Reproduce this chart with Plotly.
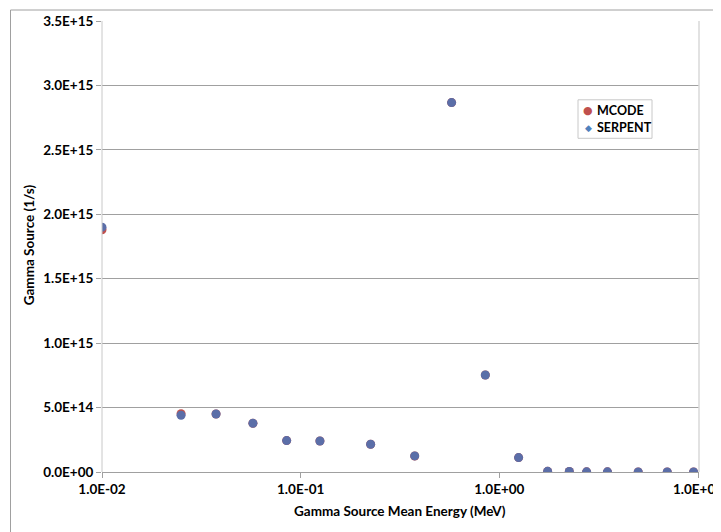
import plotly.graph_objects as go

energy = [0.01, 0.025, 0.0375, 0.0575, 0.085, 0.125, 0.225, 0.375, 0.575, 0.85,
          1.25, 1.75, 2.25, 2.75, 3.5, 5.0, 7.0, 9.5]
mcode = [1.88e15, 4.53e14, 4.50e14, 3.78e14, 2.44e14, 2.41e14, 2.15e14, 1.24e14,
         2.867e15, 7.53e14, 1.12e14, 5e12, 4e12, 1e12, 1e12, 5e11, 2e11, 1e11]
serpent = [1.90e15, 4.40e14, 4.50e14, 3.78e14, 2.44e14, 2.41e14, 2.15e14, 1.25e14,
           2.867e15, 7.53e14, 1.12e14, 5e12, 4e12, 1e12, 1e12, 5e11, 2e11, 1e11]
series_names = ["MCODE", "SERPENT"]
ytick_vals = [0, 5e14, 1e15, 1.5e15, 2e15, 2.5e15, 3e15, 3.5e15]
ytick_text = ["0.0E+00", "5.0E+14", "1.0E+15", "1.5E+15", "2.0E+15", "2.5E+15", "3.0E+15", "3.5E+15"]
xtick_vals = [0.01, 0.1, 1, 10]
xtick_text = ["1.0E-02", "1.0E-01", "1.0E+00", "1.0E+01"]

FONT = "Lato"
OFF = 8  # page body offset

# target plot area in screenshot pixels
L, R, T, B = 102, 699, 20.7, 471.7
W, H = 721, 532
ml, mr, mt = L - OFF, W - (R - OFF), T - OFF
mb = H - (B - OFF)
pw, ph = R - L, B - T


def px(x):
    return (x - L) / pw


def py(y):
    return (B - y) / ph


RED = "#c0504d"
BLUE = "#4f81bd"

fig = go.Figure()
fig.add_trace(go.Scatter(x=energy, y=mcode, mode="markers", name=series_names[0],
                         showlegend=False,
                         marker=dict(symbol="circle", size=9, color=RED)))
fig.add_trace(go.Scatter(x=energy, y=serpent, mode="markers", name=series_names[1],
                         showlegend=False,
                         marker=dict(symbol="circle", size=9, color="#5b6ea8")))

# legend box (drawn manually to match the compact Excel legend)
shapes = [
    dict(type="line", xref="paper", yref="paper", x0=0, x1=0, y0=0, y1=1,
         line=dict(color="#c8c8c8", width=1)),
    dict(type="line", xref="paper", yref="paper", x0=1, x1=1, y0=0, y1=1,
         line=dict(color="#d9d9d9", width=1.5)),
    dict(type="rect", xref="paper", yref="paper",
         x0=px(10.5), x1=px(760), y0=py(560), y1=py(9.7),
         line=dict(color="#a0a0a0", width=1), layer="below"),
    dict(type="rect", xref="paper", yref="paper",
         x0=px(578), x1=px(652), y0=py(138), y1=py(99.5),
         line=dict(color="#c8c8c8", width=1), fillcolor="white", layer="above"),
]
annotations = [
    dict(text="<b>Gamma Source (1/s)</b>", xref="paper", yref="paper",
         x=px(29), y=py(245), xanchor="center", yanchor="middle",
         textangle=-90, showarrow=False,
         font=dict(family=FONT, size=13.5, color="#000")),
    dict(text="<b>Gamma Source Mean Energy (MeV)</b>", xref="paper", yref="paper",
         x=px(400), y=py(511), xanchor="center", yanchor="middle", showarrow=False,
         font=dict(family=FONT, size=13.5, color="#000")),
]
for name, sym, col, yy, sz in [(series_names[0], "●", RED, 110.5, 11),
                               (series_names[1], "◆", BLUE, 127.5, 9)]:
    annotations.append(dict(text=sym, xref="paper", yref="paper", x=px(588), y=py(yy),
                            xanchor="center", yanchor="middle", showarrow=False,
                            font=dict(family="DejaVu Sans", size=sz, color=col)))
    annotations.append(dict(text="<b>%s</b>" % name, xref="paper", yref="paper",
                            x=px(595), y=py(yy), xanchor="left", yanchor="middle",
                            showarrow=False,
                            font=dict(family=FONT, size=12.5, color="#000")))

fig.update_layout(
    width=W, height=H,
    margin=dict(l=ml, r=mr, t=mt, b=mb, autoexpand=False),
    paper_bgcolor="white", plot_bgcolor="white",
    font=dict(family=FONT, size=11, color="#000000"),
    showlegend=False,
    xaxis=dict(type="log", range=[-2, 1.005], automargin=False,
               tickvals=xtick_vals, ticktext=xtick_text,
               tickfont=dict(family=FONT, size=13.5, color="#000", weight="bold"),
               ticks="outside", ticklen=5, tickcolor="#a0a0a0",
               showline=True, linecolor="#a0a0a0", linewidth=1,
               showgrid=False, zeroline=False),
    yaxis=dict(range=[0, 3.5e15], automargin=False,
               tickvals=ytick_vals, ticktext=ytick_text,
               tickfont=dict(family=FONT, size=13.5, color="#000", weight="bold"),
               ticks="outside", ticklen=5, tickcolor="#a0a0a0",
               showline=False,
               showgrid=True, gridcolor="#a0a0a0", gridwidth=1,
               zeroline=False),
    shapes=shapes,
    annotations=annotations,
)

fig.write_html("out.html")
